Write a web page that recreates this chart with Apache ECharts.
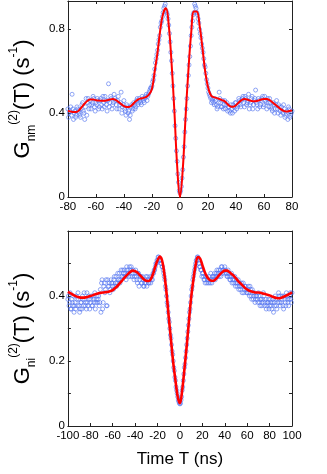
<!DOCTYPE html>
<html>
<head>
<meta charset="utf-8">
<title>g2</title>
<script src="https://cdn.jsdelivr.net/npm/echarts@6/dist/echarts.min.js"></script>
<style>
  html, body { margin: 0; padding: 0; background: #fff; }
  #main { width: 327px; height: 474px; }
</style>
</head>
<body>
<div id="main"></div>
<script>
const topStart = -80, bottomStart = -100;

const topPoints = [
  0.42,0.40,0.43,0.49,0.37,0.41,0.39,0.42,0.40,0.38,
  0.44,0.41,0.37,0.47,0.45,0.42,0.46,0.44,0.48,0.43,
  0.45,0.47,0.42,0.46,0.44,0.48,0.43,0.46,0.41,0.54,
  0.45,0.47,0.44,0.49,0.46,0.42,0.48,0.44,0.50,0.43,
  0.46,0.41,0.44,0.40,0.37,0.43,0.41,0.45,0.42,0.46,
  0.44,0.47,0.45,0.48,0.46,0.47,0.49,0.48,0.50,0.52,
  0.53,0.56,0.61,0.66,0.70,0.75,0.81,0.84,0.88,0.91,
  0.89,0.87,0.82,0.74,0.65,0.53,0.41,0.28,0.17,0.07,
  0.02,
  0.05,0.13,0.24,0.37,0.47,0.58,0.67,0.77,0.84,0.88,
  0.91,0.88,0.85,0.80,0.76,0.71,0.66,0.62,0.56,0.52,
  0.49,0.47,0.46,0.45,0.47,0.44,0.43,0.50,0.45,0.43,
  0.42,0.46,0.44,0.41,0.43,0.40,0.42,0.44,0.41,0.45,
  0.43,0.47,0.44,0.46,0.48,0.43,0.47,0.45,0.49,0.44,
  0.47,0.42,0.46,0.51,0.44,0.47,0.43,0.46,0.48,0.44,
  0.46,0.42,0.45,0.47,0.43,0.41,0.44,0.42,0.46,0.40,
  0.43,0.39,0.41,0.44,0.38,0.40,0.37,0.42,0.39,0.41
];

// second set, half a nanosecond later (-79.5 .. 79.5)
const topPointsB = [
  0.38,0.41,0.39,0.42,0.40,0.38,0.43,0.41,0.39,0.42,
  0.45,0.40,0.43,0.39,0.47,0.44,0.42,0.45,0.47,0.41,
  0.44,0.46,0.43,0.47,0.42,0.45,0.48,0.44,0.46,0.43,
  0.48,0.42,0.45,0.47,0.44,0.46,0.42,0.45,0.40,0.44,
  0.42,0.39,0.43,0.41,0.39,0.44,0.42,0.44,0.43,0.47,
  0.45,0.46,0.44,0.47,0.45,0.48,0.46,0.49,0.51,0.52,
  0.55,0.58,0.64,0.68,0.73,0.77,0.83,0.86,0.90,0.92,
  0.88,0.85,0.78,0.69,0.59,0.47,0.34,0.22,0.11,0.03,
  0.03,0.09,0.19,0.31,0.42,0.53,0.63,0.72,0.81,0.87,
  0.92,0.90,0.87,0.83,0.78,0.73,0.69,0.63,0.59,0.54,
  0.50,0.48,0.45,0.47,0.44,0.46,0.42,0.45,0.47,0.43,
  0.46,0.44,0.42,0.45,0.43,0.41,0.44,0.40,0.43,0.45,
  0.42,0.44,0.46,0.43,0.47,0.45,0.48,0.44,0.46,0.42,
  0.45,0.48,0.44,0.47,0.45,0.42,0.46,0.44,0.47,0.43,
  0.48,0.45,0.47,0.43,0.45,0.42,0.45,0.40,0.44,0.42,
  0.44,0.41,0.43,0.40,0.42,0.39,0.41,0.43,0.38,0.40
];

const topFit = [
  0.410,0.408,0.406,0.406,0.414,0.430,0.446,0.459,0.465,0.465,
  0.462,0.460,0.459,0.459,0.462,0.465,0.467,0.463,0.454,0.443,
  0.433,0.429,0.430,0.440,0.454,0.465,0.470,0.473,0.478,0.490,
  0.515,0.600,0.690,0.800,0.875,0.900,0.820,0.640,0.414,0.150,
  0.000,
  0.130,0.380,0.600,0.780,0.885,0.885,0.820,0.715,0.600,0.525,
  0.487,0.476,0.473,0.468,0.462,0.456,0.443,0.432,0.430,0.438,
  0.451,0.462,0.467,0.465,0.460,0.457,0.457,0.460,0.465,0.467,
  0.467,0.462,0.452,0.441,0.430,0.419,0.411,0.408,0.410,0.413
];

const bottomPoints = [
  0.39,0.37,0.41,0.36,0.38,0.40,0.37,0.36,0.39,0.41,
  0.37,0.36,0.38,0.40,0.37,0.39,0.38,0.41,0.37,0.39,
  0.38,0.40,0.37,0.39,0.41,0.38,0.40,0.39,0.37,0.42,
  0.44,0.36,0.43,0.41,0.45,0.37,0.43,0.44,0.42,0.44,
  0.43,0.45,0.43,0.46,0.44,0.45,0.47,0.45,0.46,0.48,
  0.46,0.47,0.45,0.48,0.47,0.49,0.46,0.48,0.47,0.45,
  0.47,0.46,0.44,0.47,0.45,0.46,0.44,0.45,0.43,0.45,
  0.44,0.46,0.44,0.45,0.44,0.46,0.47,0.48,0.49,0.50,
  0.51,0.52,0.51,0.50,0.49,0.48,0.46,0.43,0.40,0.37,
  0.33,0.30,0.27,0.23,0.20,0.17,0.14,0.11,0.09,0.075,
  0.068,
  0.08,0.11,0.14,0.18,0.21,0.25,0.29,0.33,0.36,0.40,
  0.43,0.46,0.48,0.50,0.51,0.52,0.50,0.49,0.48,0.47,
  0.46,0.45,0.46,0.44,0.45,0.46,0.44,0.45,0.46,0.45,
  0.47,0.46,0.48,0.47,0.46,0.48,0.49,0.47,0.48,0.49,
  0.47,0.46,0.48,0.46,0.45,0.47,0.45,0.44,0.46,0.44,
  0.43,0.45,0.43,0.42,0.44,0.43,0.41,0.43,0.42,0.41,
  0.43,0.40,0.42,0.39,0.41,0.40,0.38,0.40,0.39,0.41,
  0.38,0.39,0.37,0.39,0.40,0.38,0.36,0.38,0.39,0.37,
  0.38,0.36,0.39,0.38,0.40,0.37,0.39,0.41,0.38,0.40,
  0.39,0.37,0.40,0.38,0.41,0.39,0.37,0.40,0.39,0.41
];

// second set (-99.5 .. 99.5)
const bottomPointsB = [
  0.40,0.38,0.36,0.39,0.37,0.35,0.38,0.40,0.37,0.39,
  0.35,0.38,0.36,0.39,0.41,0.37,0.36,0.38,0.40,0.36,
  0.39,0.37,0.40,0.38,0.36,0.39,0.38,0.40,0.38,0.35,
  0.45,0.38,0.44,0.42,0.37,0.45,0.43,0.41,0.45,0.44,
  0.42,0.46,0.44,0.43,0.47,0.45,0.44,0.48,0.46,0.47,
  0.48,0.46,0.49,0.47,0.46,0.48,0.49,0.46,0.48,0.46,
  0.48,0.45,0.47,0.43,0.46,0.44,0.46,0.43,0.44,0.46,
  0.43,0.45,0.44,0.46,0.45,0.45,0.47,0.48,0.50,0.51,
  0.52,0.51,0.51,0.50,0.49,0.47,0.45,0.42,0.38,0.35,
  0.32,0.28,0.25,0.22,0.18,0.15,0.12,0.10,0.08,0.07,
  0.07,0.09,0.12,0.16,0.19,0.23,0.27,0.31,0.35,0.38,
  0.42,0.45,0.47,0.49,0.51,0.52,0.51,0.49,0.48,0.46,
  0.47,0.45,0.44,0.46,0.45,0.44,0.45,0.47,0.44,0.46,
  0.46,0.45,0.47,0.46,0.48,0.47,0.46,0.49,0.48,0.47,
  0.48,0.47,0.46,0.47,0.45,0.46,0.44,0.46,0.45,0.43,
  0.45,0.44,0.42,0.44,0.43,0.41,0.44,0.42,0.43,0.41,
  0.42,0.41,0.43,0.40,0.42,0.39,0.41,0.39,0.40,0.38,
  0.40,0.37,0.39,0.38,0.41,0.37,0.39,0.37,0.38,0.36,
  0.39,0.37,0.38,0.35,0.37,0.39,0.36,0.38,0.40,0.37,
  0.38,0.40,0.36,0.39,0.37,0.40,0.38,0.39,0.41,0.38
];

const bottomFit = [
  0.413,0.409,0.405,0.401,0.398,0.396,0.395,0.395,0.396,0.398,
  0.400,0.402,0.405,0.407,0.409,0.410,0.411,0.412,0.413,0.415,
  0.418,0.424,0.430,0.438,0.446,0.454,0.462,0.469,0.475,0.478,
  0.476,0.472,0.465,0.458,0.451,0.447,0.446,0.452,0.468,0.490,
  0.510,0.521,0.510,0.470,0.410,0.335,0.265,0.195,0.140,0.090,
  0.070,
  0.110,0.175,0.245,0.322,0.395,0.450,0.495,0.520,0.515,0.495,
  0.475,0.460,0.451,0.447,0.447,0.452,0.460,0.468,0.474,0.478,
  0.478,0.474,0.468,0.462,0.454,0.446,0.439,0.432,0.425,0.420,
  0.416,0.414,0.412,0.411,0.411,0.410,0.408,0.406,0.404,0.402,
  0.399,0.396,0.394,0.393,0.394,0.397,0.400,0.403,0.407,0.411
];

const topYLabels = ['0', '0.4', '0.8'];
const bottomYLabels = ['0', '0.2', '0.4'];

function pairs(start, step, vals) {
  return vals.map((v, i) => [start + i * step, v]);
}

const font = "'Liberation Sans', Arial, sans-serif";
const axisCol = '#222';
const dotCol = '#5474f0';

function xAx(grid, min, max, pos, labels, extra) {
  return Object.assign({
    type: 'value', gridIndex: grid, min: min, max: max, interval: 20, position: pos,
    axisLine: { show: true, onZero: false, lineStyle: { color: axisCol, width: 1 } },
    axisTick: { show: true, inside: true, length: 3, lineStyle: { color: axisCol } },
    axisLabel: { show: labels, color: '#000', fontFamily: font, fontSize: 11.5, margin: 4 },
    splitLine: { show: false }
  }, extra || {});
}

function yAx(grid, max, interval, pos, labels, extra) {
  return Object.assign({
    type: 'value', gridIndex: grid, min: 0, max: max, interval: interval, position: pos,
    axisLine: { show: true, onZero: false, lineStyle: { color: axisCol, width: 1 } },
    axisTick: { show: true, inside: true, length: 3, lineStyle: { color: axisCol } },
    axisLabel: {
      show: !!labels, color: '#000', fontFamily: font, fontSize: 11.5, margin: 3,
      formatter: function (v) {
        const s = String(Math.round(v * 10) / 10);
        return labels && labels.indexOf(s) >= 0 ? s : '';
      }
    },
    splitLine: { show: false }
  }, extra || {});
}

const nameRich = {
  g: { fontFamily: font, fontSize: 22, lineHeight: 30, color: '#000' },
  sub: { fontFamily: font, fontSize: 12, lineHeight: 13, verticalAlign: 'bottom', color: '#000' },
  sup: { fontFamily: font, fontSize: 12, lineHeight: 13, verticalAlign: 'top', color: '#000' }
};

function yName(sub) {
  return {
    name: '{g|G}{sub|' + sub + '}{sup|(2)}{g|(T) (s}{sup|-1}{g|)}',
    nameLocation: 'middle', nameRotate: 90, nameGap: 17,
    nameTextStyle: { rich: nameRich }
  };
}

function dots(xi, yi, data) {
  return {
    type: 'scatter', xAxisIndex: xi, yAxisIndex: yi, symbol: 'circle', symbolSize: 4,
    itemStyle: { color: 'rgba(0,0,0,0)', borderColor: dotCol, borderWidth: 0.8 },
    data: data
  };
}

const chart = echarts.init(document.getElementById('main'), null, { renderer: 'canvas' });
chart.setOption({
  animation: false,
  backgroundColor: '#fff',
  grid: [
    { left: 47, top: 1, width: 245, height: 196 },
    { left: 49, top: 231, width: 243, height: 195 }
  ],
  xAxis: [
    xAx(0, -80, 80, 'bottom', true),
    xAx(0, -80, 80, 'top', false),
    xAx(1, -100, 100, 'bottom', true, {
      name: 'Time T (ns)', nameLocation: 'middle', nameGap: 25,
      nameTextStyle: { fontFamily: font, fontSize: 17, color: '#000' }
    }),
    xAx(1, -100, 100, 'top', false)
  ],
  yAxis: [
    yAx(0, 0.935, 0.4, 'left', topYLabels, yName('nm')),
    yAx(0, 0.935, 0.4, 'right', null),
    yAx(1, 0.6, 0.1, 'left', bottomYLabels, yName('ni')),
    yAx(1, 0.6, 0.1, 'right', null)
  ],
  series: [
    dots(0, 0, pairs(topStart, 1, topPoints).concat(pairs(topStart + 0.5, 1, topPointsB))),
    {
      type: 'line', xAxisIndex: 0, yAxisIndex: 0, smooth: 0.4, showSymbol: false, z: 3,
      lineStyle: { color: '#ff0000', width: 2 },
      data: pairs(topStart, 2, topFit)
    },
    dots(2, 2, pairs(bottomStart, 1, bottomPoints).concat(pairs(bottomStart + 0.5, 1, bottomPointsB))),
    {
      type: 'line', xAxisIndex: 2, yAxisIndex: 2, smooth: 0.4, showSymbol: false, z: 3,
      lineStyle: { color: '#ff0000', width: 2.6 },
      data: pairs(bottomStart, 2, bottomFit)
    }
  ]
});
</script>
</body>
</html>
